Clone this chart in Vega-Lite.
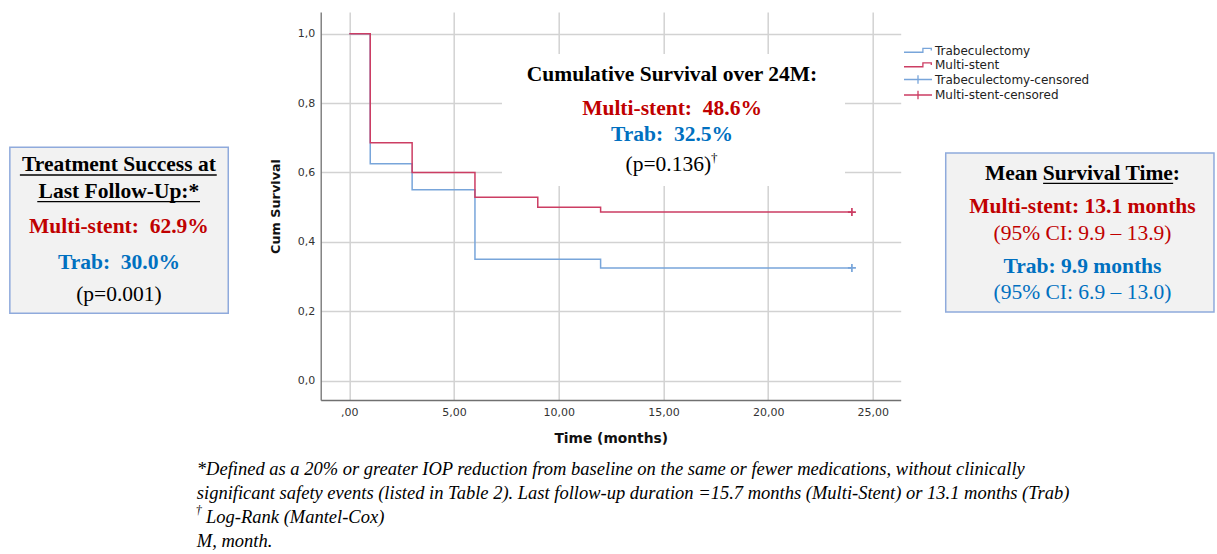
{
  "$schema": "https://vega.github.io/schema/vega-lite/v6.json",
  "autosize": {"type": "none"},
  "padding": {"left": 320.7, "top": 12, "right": 316.3, "bottom": 154},
  "width": 580,
  "height": 388,
  "background": "white",
  "config": {"view": {"stroke": null}},
  "layer": [
    {
      "data": {"values": [
        {"group": "Trabeculectomy", "time": 0, "survival": 1},
        {"group": "Trabeculectomy", "time": 1, "survival": 0.625},
        {"group": "Trabeculectomy", "time": 3, "survival": 0.55},
        {"group": "Trabeculectomy", "time": 6, "survival": 0.35},
        {"group": "Trabeculectomy", "time": 12, "survival": 0.325},
        {"group": "Trabeculectomy", "time": 24, "survival": 0.325},
        {"group": "Multi-stent", "time": 0, "survival": 1},
        {"group": "Multi-stent", "time": 1, "survival": 0.686},
        {"group": "Multi-stent", "time": 3, "survival": 0.6},
        {"group": "Multi-stent", "time": 6, "survival": 0.529},
        {"group": "Multi-stent", "time": 9, "survival": 0.5},
        {"group": "Multi-stent", "time": 12, "survival": 0.486},
        {"group": "Multi-stent", "time": 24, "survival": 0.486}
      ]},
      "mark": {"type": "line", "interpolate": "step-after", "strokeWidth": 1.5},
      "encoding": {
        "x": {"field": "time", "type": "quantitative",
          "scale": {"domain": [-1.366, 26.33], "nice": false, "zero": false},
          "axis": {"values": [0, 5, 10, 15, 20, 25],
            "labelExpr": "datum.value == 0 ? ',00' : replace(format(datum.value, '.2f'), '.', ',')",
            "grid": true, "gridColor": "#d2d2d2", "gridWidth": 1.5,
            "domainColor": "#707070", "domainWidth": 1.3, "ticks": false, "tickSize": 0,
            "labelFont": "DejaVu Sans", "labelFontSize": 11, "labelColor": "#333333", "labelPadding": 6,
            "title": "Time (months)", "titleFont": "DejaVu Sans", "titleFontSize": 13.8, "titleFontWeight": "bold",
            "titleColor": "#111111", "titlePadding": 14}},
        "y": {"field": "survival", "type": "quantitative",
          "scale": {"domain": [-0.0556, 1.0625], "nice": false, "zero": false},
          "axis": {"values": [0, 0.2, 0.4, 0.6, 0.8, 1.0],
            "labelExpr": "replace(format(datum.value, '.1f'), '.', ',')",
            "grid": true, "gridColor": "#d2d2d2", "gridWidth": 1.5,
            "domainColor": "#707070", "domainWidth": 1.3, "ticks": false, "tickSize": 0,
            "labelFont": "DejaVu Sans", "labelFontSize": 11, "labelColor": "#333333", "labelPadding": 6,
            "title": "Cum Survival", "titleFont": "DejaVu Sans", "titleFontSize": 12.8, "titleFontWeight": "bold",
            "titleColor": "#111111", "titlePadding": 15}},
        "color": {"field": "group", "type": "nominal",
          "scale": {"domain": ["Trabeculectomy", "Multi-stent"], "range": ["#78a5da", "#cc3d63"]},
          "legend": {"title": null, "orient": "none", "legendX": 582.3, "legendY": 30.5, "padding": 0,
            "labelFont": "DejaVu Sans", "labelFontSize": 12, "labelColor": "#222222", "labelOffset": 16,
            "symbolSize": 196, "symbolStrokeWidth": 1.3, "symbolFillColor": "transparent", "rowPadding": 0.5,
            "symbolType": "M-1,0.25H1.7V-0.3H2.9V0"}}
      }
    },
    {
      "data": {"values": [
        {"group": "Trabeculectomy-censored", "time": 24, "survival": 0.325},
        {"group": "Multi-stent-censored", "time": 24, "survival": 0.486}
      ]},
      "mark": {"type": "point", "shape": "M-1,0H1M0,-1V1", "size": 64, "filled": false, "strokeWidth": 1.7, "opacity": 1},
      "encoding": {
        "x": {"field": "time", "type": "quantitative"},
        "y": {"field": "survival", "type": "quantitative"},
        "stroke": {"field": "group", "type": "nominal",
          "scale": {"domain": ["Trabeculectomy-censored", "Multi-stent-censored"], "range": ["#78a5da", "#cc3d63"]},
          "legend": {"title": null, "orient": "none", "legendX": 582.3, "legendY": 59.5, "padding": 0,
            "labelFont": "DejaVu Sans", "labelFontSize": 12, "labelColor": "#222222", "labelOffset": 16,
            "symbolSize": 196, "symbolStrokeWidth": 1.3, "symbolFillColor": "transparent", "rowPadding": 0.5,
            "symbolType": "M-1,0H3M1,-0.6V0.6"}}
      }
    },
    {
      "data": {"values": [{}]},
      "mark": {"type": "rect", "fill": "white"},
      "encoding": {"x": {"datum": 7.29}, "x2": {"datum": 23.67}, "y": {"datum": 0.9415}, "y2": {"datum": 0.5611}}
    },
    {
      "data": {"values": [{}]},
      "mark": {"type": "text", "font": "Liberation Serif", "fontSize": 21.5, "fontWeight": "bold", "color": "#000000", "align": "center", "baseline": "middle"},
      "encoding": {"x": {"datum": 15.41}, "y": {"datum": 0.881}, "text": {"value": "Cumulative Survival over 24M:"}}
    },
    {
      "data": {"values": [{}]},
      "mark": {"type": "text", "font": "Liberation Serif", "fontSize": 21.5, "fontWeight": "bold", "color": "#c00000", "align": "center", "baseline": "middle"},
      "encoding": {"x": {"datum": 15.41}, "y": {"datum": 0.783}, "text": {"value": "Multi-stent:\u00a0 48.6%"}}
    },
    {
      "data": {"values": [{}]},
      "mark": {"type": "text", "font": "Liberation Serif", "fontSize": 21.5, "fontWeight": "bold", "color": "#0070c0", "align": "center", "baseline": "middle"},
      "encoding": {"x": {"datum": 15.41}, "y": {"datum": 0.7081}, "text": {"value": "Trab:\u00a0 32.5%"}}
    },
    {
      "data": {"values": [{}]},
      "mark": {"type": "text", "font": "Liberation Serif", "fontSize": 21.5, "color": "#000000", "align": "center", "baseline": "middle"},
      "encoding": {"x": {"datum": 15.23}, "y": {"datum": 0.6216}, "text": {"value": "(p=0.136)"}}
    },
    {
      "data": {"values": [{}]},
      "mark": {"type": "text", "font": "Liberation Serif", "fontSize": 13, "color": "#000000", "align": "left", "baseline": "middle"},
      "encoding": {"x": {"datum": 17.27}, "y": {"datum": 0.6418}, "text": {"value": "†"}}
    },
    {
      "data": {"values": [{}]},
      "mark": {"type": "rect", "fill": "#f2f2f2", "stroke": "#8faadc", "strokeWidth": 1.5},
      "encoding": {"x": {"datum": -16.21}, "x2": {"datum": -5.78}, "y": {"datum": 0.6726}, "y2": {"datum": 0.1942}}
    },
    {
      "data": {"values": [{}]},
      "mark": {"type": "text", "font": "Liberation Serif", "fontSize": 21.5, "fontWeight": "bold", "color": "#000000", "align": "center", "baseline": "middle", "lineHeight": 26.7},
      "encoding": {"x": {"datum": -11.0}, "y": {"datum": 0.6216}, "text": {"value": ["Treatment Success at", "Last Follow-Up:*"]}}
    },
    {
      "data": {"values": [{}]},
      "mark": {"type": "rule", "color": "#000000", "strokeWidth": 1.3},
      "encoding": {"x": {"datum": -15.73}, "x2": {"datum": -6.33}, "y": {"datum": 0.5928}}
    },
    {
      "data": {"values": [{}]},
      "mark": {"type": "rule", "color": "#000000", "strokeWidth": 1.3},
      "encoding": {"x": {"datum": -14.9}, "x2": {"datum": -7.13}, "y": {"datum": 0.5159}}
    },
    {
      "data": {"values": [{}]},
      "mark": {"type": "text", "font": "Liberation Serif", "fontSize": 21.5, "fontWeight": "bold", "color": "#c00000", "align": "center", "baseline": "middle"},
      "encoding": {"x": {"datum": -11.0}, "y": {"datum": 0.4421}, "text": {"value": "Multi-stent:\u00a0 62.9%"}}
    },
    {
      "data": {"values": [{}]},
      "mark": {"type": "text", "font": "Liberation Serif", "fontSize": 21.5, "fontWeight": "bold", "color": "#0070c0", "align": "center", "baseline": "middle"},
      "encoding": {"x": {"datum": -11.0}, "y": {"datum": 0.3401}, "text": {"value": "Trab:\u00a0 30.0%"}}
    },
    {
      "data": {"values": [{}]},
      "mark": {"type": "text", "font": "Liberation Serif", "fontSize": 21.5, "color": "#000000", "align": "center", "baseline": "middle"},
      "encoding": {"x": {"datum": -11.0}, "y": {"datum": 0.247}, "text": {"value": "(p=0.001)"}}
    },
    {
      "data": {"values": [{}]},
      "mark": {"type": "rect", "fill": "#f2f2f2", "stroke": "#8faadc", "strokeWidth": 1.5},
      "encoding": {"x": {"datum": 28.48}, "x2": {"datum": 41.29}, "y": {"datum": 0.6562}, "y2": {"datum": 0.198}}
    },
    {
      "data": {"values": [{}]},
      "mark": {"type": "text", "font": "Liberation Serif", "fontSize": 21.5, "fontWeight": "bold", "color": "#000000", "align": "center", "baseline": "middle"},
      "encoding": {"x": {"datum": 35.01}, "y": {"datum": 0.5957}, "text": {"value": "Mean Survival Time:"}}
    },
    {
      "data": {"values": [{}]},
      "mark": {"type": "rule", "color": "#000000", "strokeWidth": 1.3},
      "encoding": {"x": {"datum": 33.13}, "x2": {"datum": 39.34}, "y": {"datum": 0.5689}}
    },
    {
      "data": {"values": [{}]},
      "mark": {"type": "text", "font": "Liberation Serif", "fontSize": 21.5, "fontWeight": "bold", "color": "#c00000", "align": "center", "baseline": "middle"},
      "encoding": {"x": {"datum": 35.01}, "y": {"datum": 0.4997}, "text": {"value": "Multi-stent: 13.1 months"}}
    },
    {
      "data": {"values": [{}]},
      "mark": {"type": "text", "font": "Liberation Serif", "fontSize": 21.5, "color": "#c00000", "align": "center", "baseline": "middle"},
      "encoding": {"x": {"datum": 35.01}, "y": {"datum": 0.4228}, "text": {"value": "(95% CI: 9.9 – 13.9)"}}
    },
    {
      "data": {"values": [{}]},
      "mark": {"type": "text", "font": "Liberation Serif", "fontSize": 21.5, "fontWeight": "bold", "color": "#0070c0", "align": "center", "baseline": "middle"},
      "encoding": {"x": {"datum": 35.01}, "y": {"datum": 0.3285}, "text": {"value": "Trab: 9.9 months"}}
    },
    {
      "data": {"values": [{}]},
      "mark": {"type": "text", "font": "Liberation Serif", "fontSize": 21.5, "color": "#0070c0", "align": "center", "baseline": "middle"},
      "encoding": {"x": {"datum": 35.01}, "y": {"datum": 0.2519}, "text": {"value": "(95% CI: 6.9 – 13.0)"}}
    },
    {
      "data": {"values": [{}]},
      "mark": {"type": "text", "font": "Liberation Serif", "fontSize": 18.5, "fontStyle": "italic", "color": "#000000", "align": "left", "baseline": "middle", "lineHeight": 24},
      "encoding": {"x": {"datum": -7.28}, "y": {"datum": -0.2545}, "text": {"value": [
        "*Defined as a 20% or greater IOP reduction from baseline on the same or fewer medications, without clinically",
        "significant safety events (listed in Table 2). Last follow-up duration =15.7 months (Multi-Stent) or 13.1 months (Trab)"
      ]}}
    },
    {
      "data": {"values": [{}]},
      "mark": {"type": "text", "font": "Liberation Serif", "fontSize": 18.5, "fontStyle": "italic", "color": "#000000", "align": "left", "baseline": "middle"},
      "encoding": {"x": {"datum": -6.84}, "y": {"datum": -0.3928}, "text": {"value": "Log-Rank (Mantel-Cox)"}}
    },
    {
      "data": {"values": [{}]},
      "mark": {"type": "text", "font": "Liberation Serif", "fontSize": 18.5, "fontStyle": "italic", "color": "#000000", "align": "left", "baseline": "middle"},
      "encoding": {"x": {"datum": -7.28}, "y": {"datum": -0.462}, "text": {"value": "M, month."}}
    },
    {
      "data": {"values": [{}]},
      "mark": {"type": "text", "font": "Liberation Serif", "fontSize": 12, "fontStyle": "italic", "color": "#000000", "align": "left", "baseline": "middle"},
      "encoding": {"x": {"datum": -7.33}, "y": {"datum": -0.3726}, "text": {"value": "†"}}
    }
  ]
}
